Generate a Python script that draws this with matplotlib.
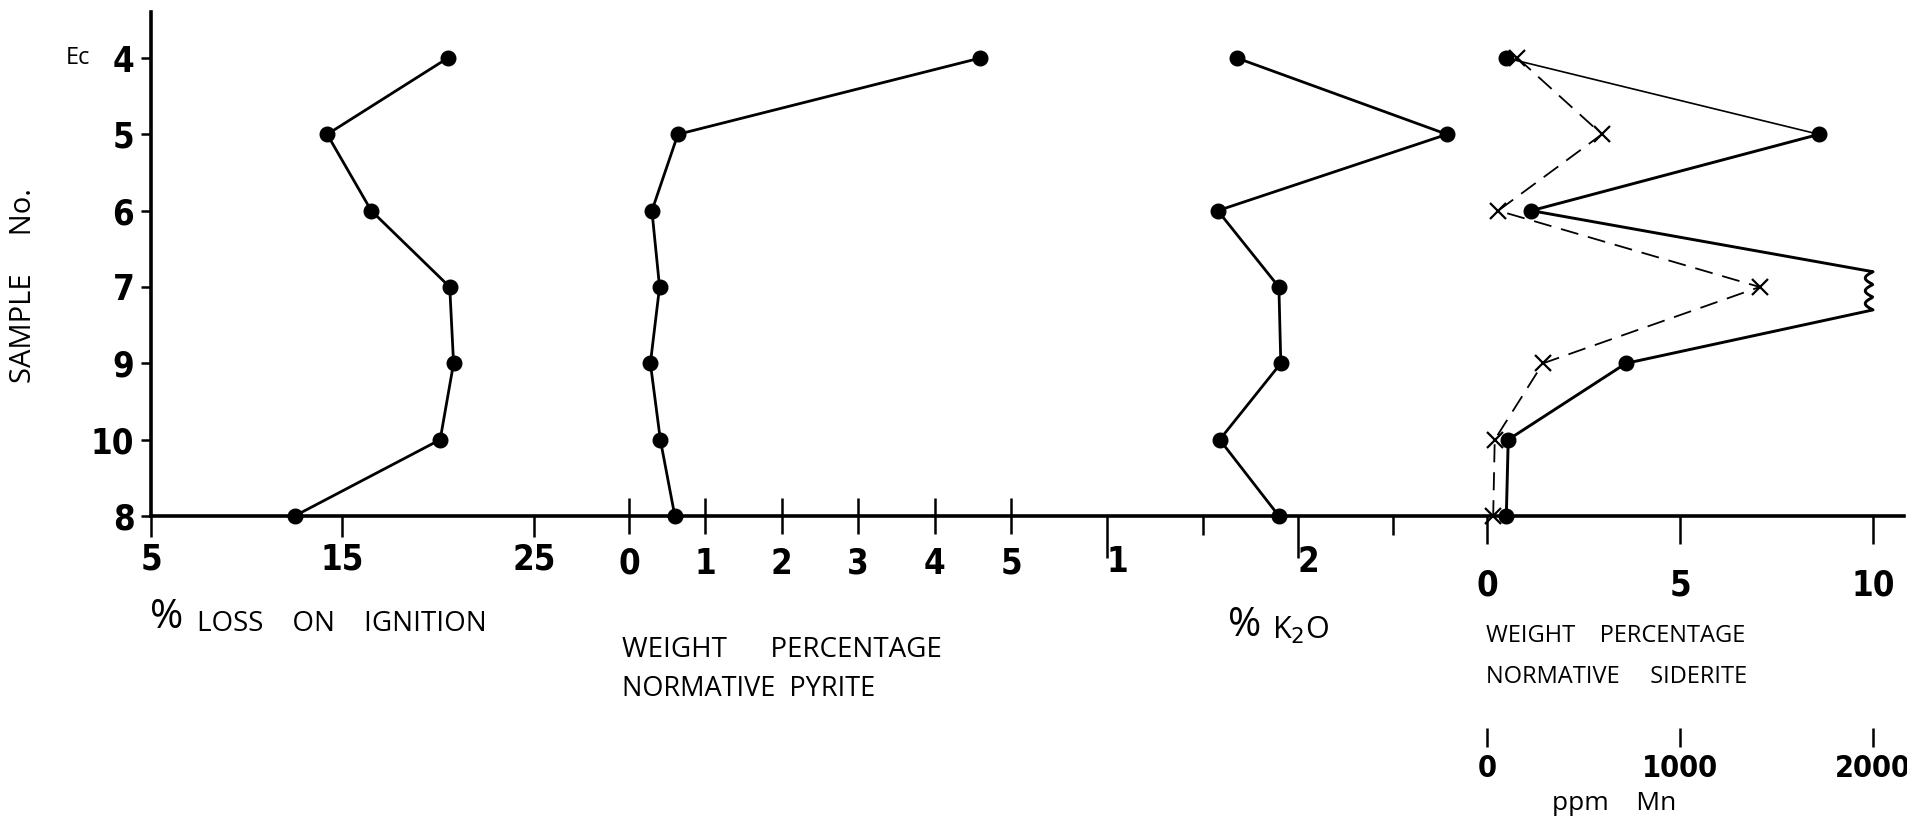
import numpy as np
import matplotlib
matplotlib.use("Agg")
import matplotlib.pyplot as plt

# sample order, top to bottom
samples = ["4", "5", "6", "7", "9", "10", "8"]
loss_on_ignition = [20.5, 14.2, 16.5, 20.6, 20.8, 20.1, 12.5]
pyrite = [4.6, 0.64, 0.30, 0.40, 0.28, 0.41, 0.60]
k2o = [1.68, 2.78, 1.58, 1.90, 1.91, 1.59, 1.90]
siderite = [0.5, 8.6, 1.15, np.nan, 3.6, 0.55, 0.5]   # nan: off scale (> 10)
mn_ppm = [158, 595, 58, 1413, 290, 40, 32]

loi_ticks = [5, 15, 25]
pyr_ticks = [0, 1, 2, 3, 4, 5]
k2o_major = [1, 2]
k2o_minor = [1.5, 2.5]
sid_ticks = [0, 5, 10]
mn_ticks = [0, 1000, 2000]
sid_max = 10
ppm_per_unit = 200.0

NUM = dict(family=["DejaVu Sans"], fontstretch="condensed", weight="bold", fontsize=25)
TXT = ["Open Sans", "DejaVu Sans"]

W, H = 1908, 817
fig = plt.figure(figsize=(W / 100, H / 100), dpi=100)
y_top, y_base = 12, 516
row0_px, row_step = 58, (516 - 58) / 6.0
rows = np.arange(len(samples))


def box(x0, x1):
    return [x0 / W, 1 - y_base / H, (x1 - x0) / W, (y_base - y_top) / H]


frame = fig.add_axes(box(151, 1904))
frame.set_xlim(0, 1)
frame.set_ylim(6, (y_top - row0_px) / row_step)
for s in ["top", "right"]:
    frame.spines[s].set_visible(False)
frame.spines["left"].set_linewidth(2.6)
frame.spines["bottom"].set_linewidth(2.6)
frame.set_xticks([])
frame.set_yticks(rows)
frame.set_yticklabels(samples, **NUM)
frame.tick_params(axis="y", length=7, width=1.8, pad=5)


def panel(x0, x1, va, pa, vb, pb):
    ax = fig.add_axes(box(x0, x1), sharey=frame)
    k = (vb - va) / (pb - pa)
    ax.set_xlim(va + (x0 - pa) * k, va + (x1 - pa) * k)
    ax.patch.set_alpha(0)
    for s in ax.spines.values():
        s.set_visible(False)
    ax.tick_params(axis="y", left=False, labelleft=False)
    return ax


ax_loi = panel(151, 584, 5, 151, 25, 534)
ax_pyr = panel(584, 1059, 0, 629, 5, 1011)
ax_k = panel(1059, 1460, 1, 1107, 2, 1298)
ax_sid = panel(1460, 1898, 0, 1487, 10, 1873)

dot = dict(color="k", marker="o", ms=10.5, clip_on=False, zorder=5)

ax_loi.plot(loss_on_ignition, rows, lw=2.0, **dot)
ax_pyr.plot(pyrite, rows, lw=2.0, **dot)
ax_k.plot(k2o, rows, lw=2.0, **dot)

# siderite line, with a break where the value runs off the scale
sx, sy = [], []
for i, v in enumerate(siderite):
    if np.isnan(v):
        t = np.linspace(0, 1, 60)
        sx += list(sid_max - 0.2 * np.abs(np.sin(3 * np.pi * t)))
        sy += list(i - 0.2 + 0.5 * t)
    else:
        sx.append(v)
        sy.append(i)
ax_sid.plot(sx[:2], sy[:2], color="k", lw=1.2, clip_on=False)
ax_sid.plot(sx[1:], sy[1:], color="k", lw=2.1, clip_on=False)
ax_sid.plot(siderite, rows, ls="none", **dot)
ax_sid.plot(np.array(mn_ppm) / ppm_per_unit, rows, color="k", lw=1.3,
            ls=(0, (10, 5.5)), marker="x", ms=11, mew=1.6, clip_on=False)

for ax, ticks in [(ax_loi, loi_ticks), (ax_pyr, pyr_ticks), (ax_sid, sid_ticks)]:
    ax.set_xticks(ticks)
    ax.set_xticklabels([str(t) for t in ticks], **NUM)
ax_loi.tick_params(axis="x", direction="out", length=15, width=1.8, pad=4)
ax_pyr.tick_params(axis="x", direction="inout", length=26, width=1.8, pad=9)
ax_sid.tick_params(axis="x", direction="out", length=20, width=1.8, pad=18)

ax_k.set_xticks(k2o_major)
ax_k.set_xticks(k2o_minor, minor=True)
ax_k.set_xticklabels([str(t) for t in k2o_major], ha="left", **NUM)
ax_k.tick_params(axis="x", which="major", direction="out", length=30, width=1.8, pad=-9)
ax_k.tick_params(axis="x", which="minor", direction="out", length=14, width=1.8)

# second scale for Mn under the siderite scale
sec = ax_sid.secondary_xaxis(-0.42, functions=(lambda x: x * ppm_per_unit,
                                               lambda x: x / ppm_per_unit))
sec.spines["bottom"].set_visible(False)
sec.set_xticks(mn_ticks)
sec.set_xticklabels([str(t) for t in mn_ticks], **{**NUM, "fontsize": 22})
sec.tick_params(axis="x", direction="out", length=14, width=1.8, pad=5)


def put(xpx, ypx, s, **kw):
    fig.text(xpx / W, 1 - ypx / H, s, va="center", **kw)


put(24, 286, "SAMPLE     No.", ha="center", rotation=90, family=TXT, fontsize=21)
put(78, 58, "Ec", ha="center", family=TXT, fontsize=17)
put(150, 618, "%", ha="left", family=TXT, fontsize=29)
put(197, 624, "LOSS    ON    IGNITION", ha="left", family=TXT, fontsize=20)
put(622, 650, "WEIGHT      PERCENTAGE", ha="left", family=TXT, fontsize=20)
put(622, 689, "NORMATIVE  PYRITE", ha="left", family=TXT, fontsize=19.5)
put(1486, 636, "WEIGHT    PERCENTAGE", ha="left", family=TXT, fontsize=17)
put(1486, 677, "NORMATIVE     SIDERITE", ha="left", family=TXT, fontsize=17)
put(1228, 626, "%", ha="left", family=TXT, fontsize=29)
put(1272, 630, "K$_2$O", ha="left", family=TXT, fontsize=22)
put(1614, 803, "ppm    Mn", ha="center", family=TXT, fontsize=19)

fig.savefig("out.png", dpi=100)
